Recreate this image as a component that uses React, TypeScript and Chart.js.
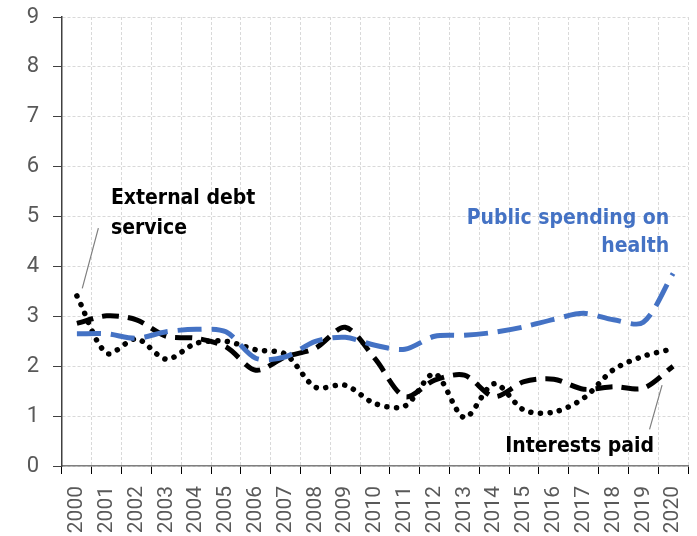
import React, { useEffect, useRef } from "react";
import { Chart, registerables } from "chart.js";

Chart.register(...registerables);

const years = ["2000","2001","2002","2003","2004","2005","2006","2007","2008","2009","2010","2011","2012","2013","2014","2015","2016","2017","2018","2019","2020"];
const externalDebtService = [3.41, 2.26, 2.55, 2.14, 2.46, 2.5, 2.33, 2.24, 1.58, 1.62, 1.25, 1.2, 1.85, 0.97, 1.65, 1.12, 1.08, 1.36, 1.93, 2.2, 2.35];
const interestsPaid = [2.86, 3.01, 2.93, 2.6, 2.56, 2.39, 1.92, 2.19, 2.36, 2.78, 2.15, 1.39, 1.72, 1.82, 1.39, 1.69, 1.74, 1.54, 1.59, 1.56, 2.0];
const publicHealth = [2.65, 2.65, 2.56, 2.69, 2.74, 2.69, 2.16, 2.19, 2.5, 2.58, 2.42, 2.34, 2.6, 2.62, 2.68, 2.79, 2.94, 3.06, 2.93, 2.88, 3.86];
const yMin = 0;
const yMax = 9;

const BLUE = "#4472C4";
const LABEL_FONT = "bold 21px 'DejaVu Sans Condensed', 'Roboto', sans-serif";

const annotationPlugin = {
  id: "textAnnotations",
  afterDatasetsDraw(chart: any) {
    const ctx = chart.ctx as CanvasRenderingContext2D;
    const xs = chart.scales.x;
    const ys = chart.scales.y;
    const px = (i: number) => xs.getPixelForValue(i);
    const py = (v: number) => ys.getPixelForValue(v);
    ctx.save();
    ctx.strokeStyle = "#7f7f7f";
    ctx.lineWidth = 1.2;
    ctx.beginPath();
    ctx.moveTo(px(0.18), py(3.56));
    ctx.lineTo(px(0.72), py(4.77));
    ctx.moveTo(px(19.63), py(1.62));
    ctx.lineTo(px(19.21), py(0.735));
    ctx.stroke();
    ctx.font = LABEL_FONT;
    ctx.textBaseline = "alphabetic";
    ctx.fillStyle = "#000000";
    ctx.textAlign = "left";
    ctx.fillText("External debt", px(1.14), py(5.25));
    ctx.fillText("service", px(1.14), py(4.66));
    ctx.fillText("Interests paid", px(14.37), py(0.28));
    ctx.fillStyle = BLUE;
    ctx.textAlign = "right";
    ctx.fillText("Public spending on", px(19.87), py(4.85));
    ctx.fillText("health", px(19.87), py(4.29));
    ctx.restore();
  },
};

export default function App() {
  const canvasRef = useRef<HTMLCanvasElement | null>(null);

  useEffect(() => {
    document.body.style.margin = "0";
    const canvas = canvasRef.current;
    if (!canvas) return;
    const chart = new Chart(canvas, {
      type: "line",
      data: {
        labels: years,
        datasets: [
          {
            label: "Public spending on health",
            data: publicHealth,
            borderColor: BLUE,
            borderWidth: 5,
            borderDash: [24, 10],
            tension: 0.3,
            pointRadius: 0,
            fill: false,
          },
          {
            label: "Interests paid",
            data: interestsPaid,
            borderColor: "#000000",
            borderWidth: 5,
            borderDash: [17, 9],
            tension: 0.3,
            pointRadius: 0,
            fill: false,
          },
          {
            label: "External debt service",
            data: externalDebtService,
            borderColor: "#000000",
            borderWidth: 5.5,
            borderDash: [0.1, 9.5],
            borderCapStyle: "round",
            tension: 0.3,
            pointRadius: 0,
            fill: false,
          },
        ],
      },
      options: {
        animation: false,
        responsive: false,
        maintainAspectRatio: false,
        layout: { padding: { top: 17, right: 9, left: 0, bottom: 0 } },
        plugins: {
          legend: { display: false },
          tooltip: { enabled: false },
        },
        scales: {
          x: {
            type: "category",
            offset: true,
            grid: {
              offset: true,
              color: "#d9d9d9",
              lineWidth: 1,
              tickColor: "#000000",
              tickLength: 8,
              tickBorderDash: [],
              drawOnChartArea: true,
            },
            border: { display: true, color: "#7f7f7f", width: 1.5, dash: [3, 2] },
            ticks: {
              minRotation: 90,
              maxRotation: 90,
              autoSkip: false,
              padding: 12,
              color: "#595959",
              font: { family: "Roboto", size: 21 },
            },
            afterFit: (scale: any) => {
              scale.height = 70;
              scale.paddingLeft = 0;
              scale.paddingRight = 0;
            },
          },
          y: {
            min: yMin,
            max: yMax,
            grid: {
              color: "#d9d9d9",
              lineWidth: 1,
              tickColor: "#404040",
              tickLength: 9,
              tickBorderDash: [],
            },
            border: { display: true, color: "#404040", width: 1.5, dash: [3, 2] },
            ticks: {
              stepSize: 1,
              padding: 14,
              color: "#595959",
              font: { family: "Roboto", size: 22 },
            },
            afterFit: (scale: any) => {
              scale.width = 62;
              scale.paddingTop = 0;
              scale.paddingBottom = 0;
            },
          },
        },
      },
      plugins: [annotationPlugin],
    } as any);
    return () => chart.destroy();
  }, []);

  return (
    <div style={{ position: "relative", width: 697, height: 536 }}>
      <canvas ref={canvasRef} width={697} height={536} style={{ display: "block", width: 697, height: 536 }} />
    </div>
  );
}
